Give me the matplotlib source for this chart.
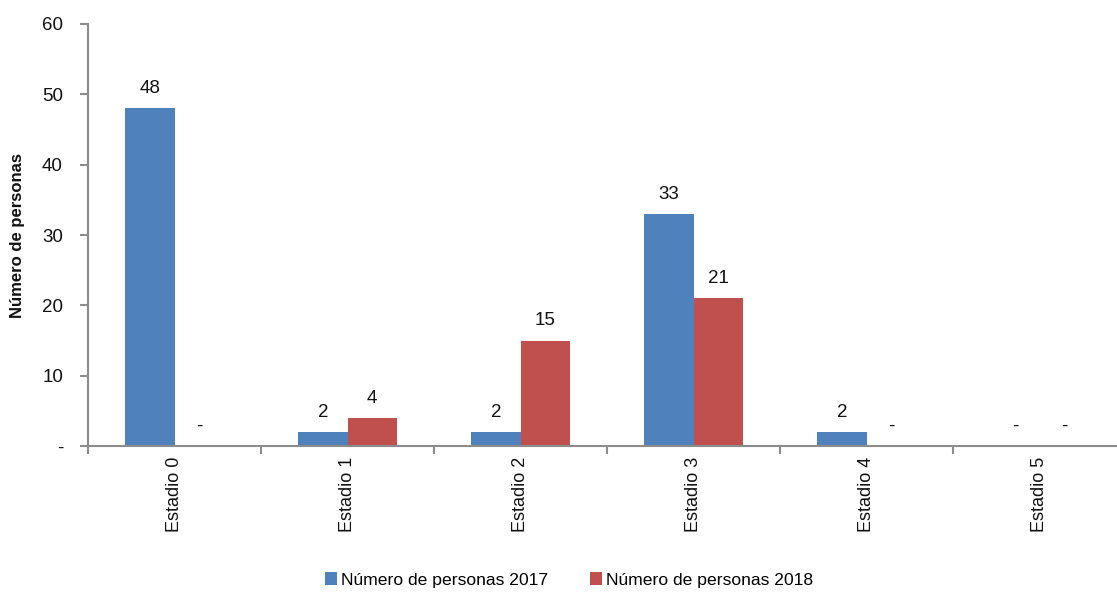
import matplotlib
matplotlib.use("Agg")
import matplotlib.pyplot as plt
import numpy as np

plt.rcParams['font.family'] = ['Liberation Sans', 'DejaVu Sans']

categories = ["Estadio 0", "Estadio 1", "Estadio 2", "Estadio 3", "Estadio 4", "Estadio 5"]
personas_2017 = [48, 2, 2, 33, 2, 0]
personas_2018 = [0, 4, 15, 21, 0, 0]
series_names = ["Número de personas 2017", "Número de personas 2018"]
y_ticks = [0, 10, 20, 30, 40, 50, 60]
y_tick_labels = ["-", "10", "20", "30", "40", "50", "60"]

blue = "#4F81BD"
red = "#C0504D"
axis_grey = "#8C8C8C"
text_col = "#111111"

fig = plt.figure(figsize=(11.17, 5.92), dpi=100)
ax = fig.add_axes([88 / 1117, 1 - 446 / 592, (1126 - 88) / 1117, (446 - 24) / 592])

x = np.arange(len(categories))
w = 0.285
b1 = ax.bar(x - w / 2, personas_2017, w, color=blue, label=series_names[0])
b2 = ax.bar(x + w / 2, personas_2018, w, color=red, label=series_names[1])

# value labels above each bar; zero values are shown as a dash
for bars, vals in ((b1, personas_2017), (b2, personas_2018)):
    for rect, v in zip(bars, vals):
        txt = str(v) if v else "-"
        ax.annotate(txt, (rect.get_x() + rect.get_width() / 2, v),
                    xytext=(0, 8), textcoords="offset points",
                    ha="center", va="bottom", fontsize=13.5, color=text_col)

ax.set_xlim(-0.5, len(categories) - 0.5)
ax.set_ylim(0, 60)
ax.set_yticks(y_ticks)
ax.set_yticklabels(y_tick_labels, fontsize=13.5, color=text_col)
ax.set_xticks(x)
ax.set_xticklabels(categories, rotation=90, fontsize=13, color=text_col)
ax.tick_params(axis="x", length=0, pad=8)
ax.set_xticks(np.arange(-0.5, len(categories) + 0.5, 1), minor=True)
ax.tick_params(axis="x", which="minor", length=6, color=axis_grey, width=1.5)
ax.tick_params(axis="y", length=6, color=axis_grey, width=1.5, pad=12)

for side in ("top", "right"):
    ax.spines[side].set_visible(False)
for side in ("left", "bottom"):
    ax.spines[side].set_color(axis_grey)
    ax.spines[side].set_linewidth(1.5)

ax.set_ylabel("Número de personas", fontsize=12, fontweight="bold",
              labelpad=12, color=text_col)

fig.legend(handles=[b1, b2], labels=series_names, loc="center",
           bbox_to_anchor=(569 / 1117, 1 - 580 / 592), ncol=2, frameon=False,
           fontsize=12.6, handlelength=0.7, handleheight=0.7, handletextpad=0.2,
           columnspacing=2.4, borderaxespad=0)

fig.savefig("out.png", dpi=100)
